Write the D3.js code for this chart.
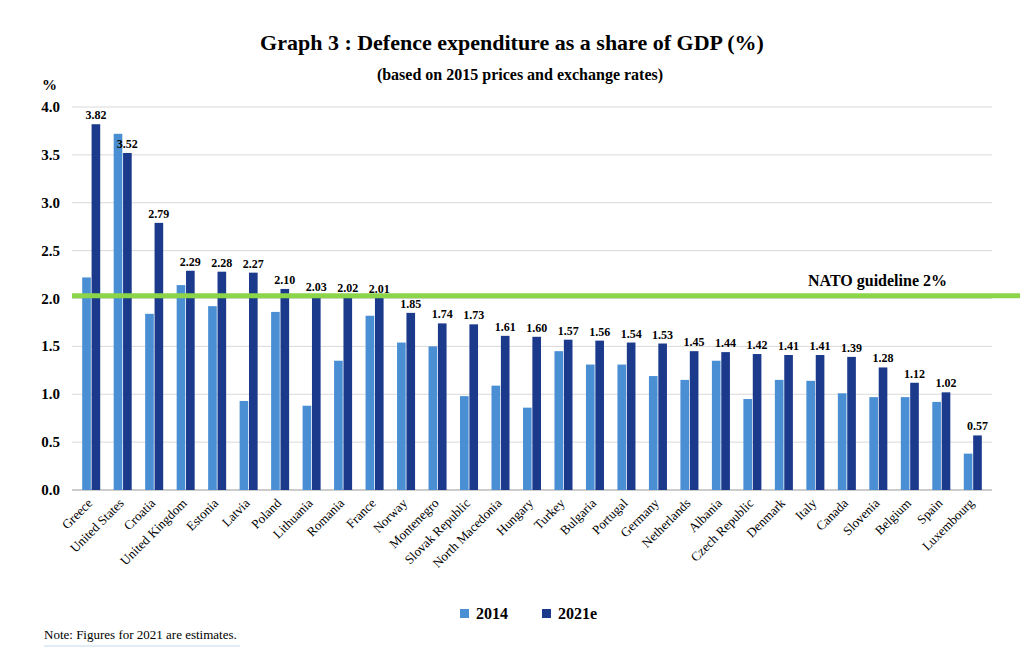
<!DOCTYPE html>
<html><head><meta charset="utf-8">
<script src="https://cdn.jsdelivr.net/npm/d3@7"></script>
<style>body{margin:0;background:#fff;font-family:"Liberation Serif",serif}</style>
</head><body><div id="chart"></div>
<script>
const countries = ["Greece","United States","Croatia","United Kingdom","Estonia","Latvia","Poland","Lithuania","Romania","France","Norway","Montenegro","Slovak Republic","North Macedonia","Hungary","Turkey","Bulgaria","Portugal","Germany","Netherlands","Albania","Czech Republic","Denmark","Italy","Canada","Slovenia","Belgium","Spain","Luxembourg"];
const v2014 = [2.22,3.72,1.84,2.14,1.92,0.93,1.86,0.88,1.35,1.82,1.54,1.50,0.98,1.09,0.86,1.45,1.31,1.31,1.19,1.15,1.35,0.95,1.15,1.14,1.01,0.97,0.97,0.92,0.38];
const v2021 = [3.82,3.52,2.79,2.29,2.28,2.27,2.10,2.03,2.02,2.01,1.85,1.74,1.73,1.61,1.60,1.57,1.56,1.54,1.53,1.45,1.44,1.42,1.41,1.41,1.39,1.28,1.12,1.02,0.57];
const yTicks = [0,0.5,1.0,1.5,2.0,2.5,3.0,3.5,4.0];
const guideline = 2.03;

const W = 1023, H = 657, L = 72, R = 992, T = 107, B = 490;
const svg = d3.select("#chart").append("svg").attr("width", W).attr("height", H);
const x = d3.scaleBand().domain(countries).range([L, R]).paddingInner(0.38).paddingOuter(0.3);
const xs = d3.scaleBand().domain(["a","b"]).range([0, x.bandwidth()]).padding(0.08);
const y = d3.scaleLinear().domain([0, 4]).range([B, T]);
const c1 = "#4a8fd4", c2 = "#1b3a8c";

svg.append("g").selectAll("line").data(yTicks).join("line")
  .attr("x1", L).attr("x2", R).attr("y1", d => y(d)).attr("y2", d => y(d))
  .attr("stroke", d => d === 0 ? "#999" : "#d9d9d9");
svg.append("g").selectAll("text").data(yTicks).join("text")
  .attr("x", 60).attr("y", d => y(d) + 5).attr("text-anchor", "end")
  .attr("font-weight", "bold").attr("font-size", 15).text(d => d.toFixed(1));
svg.append("text").attr("x", 42).attr("y", 90).attr("font-weight", "bold").attr("font-size", 15).text("%");

const g = svg.append("g").selectAll("g").data(countries).join("g")
  .attr("transform", d => `translate(${x(d)},0)`);
g.append("rect").attr("x", xs("a")).attr("width", xs.bandwidth())
  .attr("y", (d, i) => y(v2014[i])).attr("height", (d, i) => B - y(v2014[i])).attr("fill", c1);
g.append("rect").attr("x", xs("b")).attr("width", xs.bandwidth())
  .attr("y", (d, i) => y(v2021[i])).attr("height", (d, i) => B - y(v2021[i])).attr("fill", c2);
g.append("text").attr("x", xs("b") + xs.bandwidth() / 2).attr("y", (d, i) => y(v2021[i]) - 5)
  .attr("text-anchor", "middle").attr("font-weight", "bold").attr("font-size", 12)
  .text((d, i) => v2021[i].toFixed(2));
g.append("text").attr("transform", `translate(${x.bandwidth() / 2 + 2},${B + 14}) rotate(-45)`)
  .attr("text-anchor", "end").attr("font-size", 13).text(d => d);

svg.append("line").attr("x1", L).attr("x2", 1020).attr("y1", y(guideline)).attr("y2", y(guideline))
  .attr("stroke", "#8cd44a").attr("stroke-width", 5);
svg.append("text").attr("x", 947).attr("y", y(guideline) - 10).attr("text-anchor", "end")
  .attr("font-weight", "bold").attr("font-size", 16).text("NATO guideline 2%");

svg.append("text").attr("x", 512).attr("y", 50).attr("text-anchor", "middle")
  .attr("font-weight", "bold").attr("font-size", 22).text("Graph 3 : Defence expenditure as a share of GDP (%)");
svg.append("text").attr("x", 520).attr("y", 80).attr("text-anchor", "middle")
  .attr("font-weight", "bold").attr("font-size", 16).text("(based on 2015 prices and exchange rates)");

const leg = [["2014", c1, 460], ["2021e", c2, 542]];
leg.forEach(([t, c, lx]) => {
  svg.append("rect").attr("x", lx).attr("y", 609).attr("width", 9).attr("height", 9).attr("fill", c);
  svg.append("text").attr("x", lx + 16).attr("y", 619).attr("font-weight", "bold").attr("font-size", 16).text(t);
});
svg.append("text").attr("x", 44).attr("y", 639).attr("font-size", 13).text("Note: Figures for 2021 are estimates.");
svg.append("line").attr("x1", 44).attr("x2", 240).attr("y1", 646).attr("y2", 646).attr("stroke", "#c5d9ec");
</script></body></html>
